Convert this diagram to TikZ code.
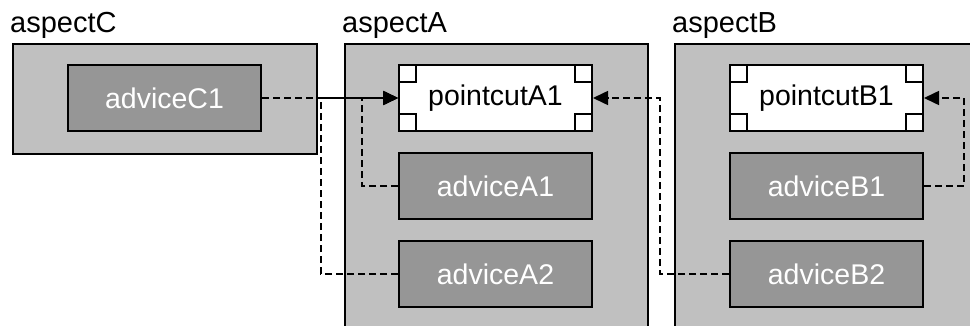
\documentclass[tikz,border=0pt]{standalone}
\usepackage{fontspec}
\setmainfont{Liberation Sans}
\usetikzlibrary{arrows.meta}

\definecolor{aspectgray}{RGB}{192,192,192}
\definecolor{advicegray}{RGB}{150,150,150}

\tikzset{
  aspectbox/.style={draw=black, line width=2pt, fill=aspectgray, anchor=north west, inner sep=0pt},
  aspectlabel/.style={anchor=base west, inner sep=0pt, font=\fontsize{29}{34}\selectfont},
  advicebox/.style={draw=black, line width=2pt, fill=advicegray, text=white,
    minimum width=193pt, minimum height=66pt, inner sep=0pt,
    font=\fontsize{28.5}{33}\selectfont},
  pointcutbox/.style={draw=black, line width=2pt, fill=white, text=black,
    minimum width=193pt, minimum height=66pt, inner sep=0pt,
    font=\fontsize{28.5}{33}\selectfont,
    path picture={
      \draw[line width=1.8pt]
        (path picture bounding box.north west) rectangle ++(17pt,-17pt)
        (path picture bounding box.north east) rectangle ++(-17pt,-17pt)
        (path picture bounding box.south west) rectangle ++(17pt,17pt)
        (path picture bounding box.south east) rectangle ++(-17pt,17pt);
    }},
  dep/.style={draw=black, line width=1.6pt, dash pattern=on 7pt off 4pt,
    -{Triangle[length=15pt,width=14pt]}}
}

\begin{document}
\begin{tikzpicture}[x=1pt, y=-1pt]
  \useasboundingbox (0,0) rectangle (970,326);

  % aspect containers, running past the lower and right edges
  \begin{scope}
    \clip (0,0) rectangle (970,326);
    \node[aspectbox, minimum width=304pt, minimum height=110pt] (aspC) at (12,43) {};
    \node[aspectbox, minimum width=303pt, minimum height=320pt] (aspA) at (344,43) {};
    \node[aspectbox, minimum width=320pt, minimum height=320pt] (aspB) at (674,43) {};
  \end{scope}

  \node[aspectlabel] (labC) at (10,33) {aspectC};
  \node[aspectlabel] (labA) at (342,33) {aspectA};
  \node[aspectlabel] (labB) at (672,33) {aspectB};

  % advices and pointcuts
  \node[advicebox] (advC1) at (164.5,98) {adviceC1};

  \node[pointcutbox] (pcA1) at (495.5,98) {pointcutA1};
  \node[advicebox] (advA1) at (495.5,186) {adviceA1};
  \node[advicebox] (advA2) at (495.5,274) {adviceA2};

  \node[pointcutbox] (pcB1) at (826.5,98) {pointcutB1};
  \node[advicebox] (advB1) at (826.5,186) {adviceB1};
  \node[advicebox] (advB2) at (826.5,274) {adviceB2};

  % advice -> pointcut references
  \draw[dep] (advC1.east) -- (pcA1.west);
  \draw[dep] (advA1.west) -- ++(-36,0) |- (pcA1.west);
  \draw[dep] (advA2.west) -- ++(-77,0) |- (pcA1.west);
  \draw[dep] (advB2.west) -- ++(-69,0) |- (pcA1.east);
  \draw[dep] (advB1.east) -- ++(40,0) |- (pcB1.east);
\end{tikzpicture}
\end{document}
